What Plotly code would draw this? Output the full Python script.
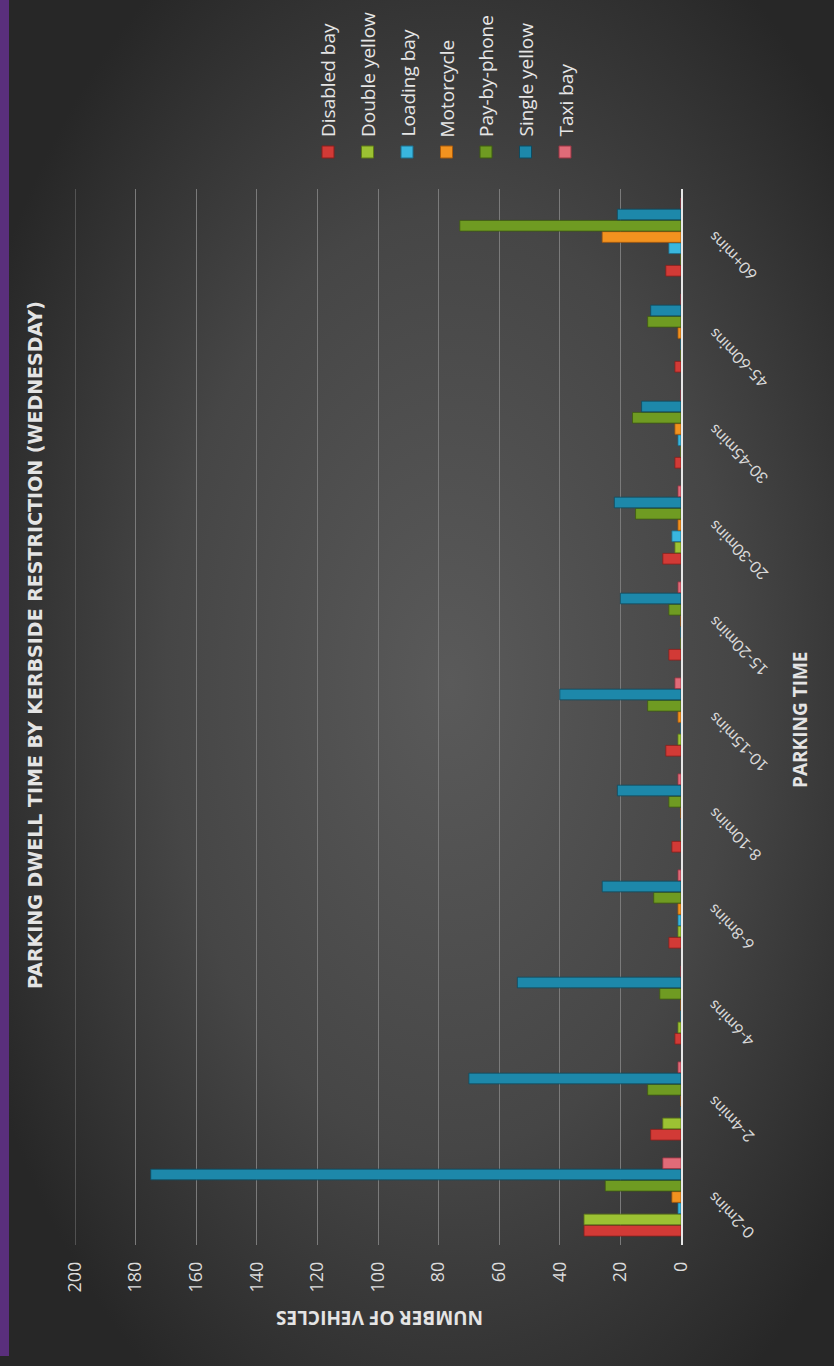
import base64
import plotly.graph_objects as go

# Parking dwell time categories (shortest at the bottom)
categories = ["0-2mins", "2-4mins", "4-6mins", "6-8mins", "8-10mins", "10-15mins",
              "15-20mins", "20-30mins", "30-45mins", "45-60mins", "60+mins"]

disabled_bay = [32, 10, 2, 4, 3, 5, 4, 6, 2, 2, 5]
double_yellow = [32, 6, 1, 1, 0, 1, 0, 2, 0, 0, 0]
loading_bay = [1, 0, 0, 1, 0, 0, 0, 3, 1, 0, 4]
motorcycle = [3, 0, 0, 1, 0, 1, 0, 1, 2, 1, 26]
pay_by_phone = [25, 11, 7, 9, 4, 11, 4, 15, 16, 11, 73]
single_yellow = [175, 70, 54, 26, 21, 40, 20, 22, 13, 10, 21]
taxi_bay = [6, 1, 0, 1, 1, 2, 1, 1, 0, 0, 0]

value_ticks = [0, 20, 40, 60, 80, 100, 120, 140, 160, 180, 200]

series = [
    ("Disabled bay", disabled_bay, "#d23a36", "#8a1f1c"),
    ("Double yellow", double_yellow, "#9cc233", "#5e7a16"),
    ("Loading bay", loading_bay, "#39b6df", "#1c6f8c"),
    ("Motorcycle", motorcycle, "#f2921f", "#a85a0c"),
    ("Pay-by-phone", pay_by_phone, "#6f9b22", "#3f5c10"),
    ("Single yellow", single_yellow, "#1d88aa", "#0d4c62"),
    ("Taxi bay", taxi_bay, "#e06b78", "#9a3442"),
]

W, H = 834, 1366
ML, MR, MT, MB = 75, 153, 189, 121
PW = W - ML - MR
PH = H - MT - MB


def fx(px):
    return (px - ML) / PW


def fy(py):
    return (H - MB - py) / PH


fig = go.Figure()
for name, vals, color, edge in series:
    fig.add_trace(go.Bar(
        y=categories, x=vals, name=name, orientation="h",
        marker=dict(color=color, line=dict(color=edge, width=0.8)),
        showlegend=False,
    ))

# soft radial backdrop
svg = (
    '<svg xmlns="http://www.w3.org/2000/svg" width="834" height="1366">'
    '<defs><radialGradient id="g" cx="0.54" cy="0.5" r="0.62">'
    '<stop offset="0" stop-color="#5a5a5a"/>'
    '<stop offset="0.55" stop-color="#464646"/>'
    '<stop offset="1" stop-color="#272727"/>'
    '</radialGradient></defs>'
    '<rect width="834" height="1366" fill="url(#g)"/></svg>'
)
bg_src = "data:image/svg+xml;base64," + base64.b64encode(svg.encode()).decode()

annotations = [
    dict(text="<b>PARKING DWELL TIME BY KERBSIDE RESTRICTION (WEDNESDAY)</b>",
         x=fx(35), y=fy(645), textangle=-90, showarrow=False,
         xref="paper", yref="paper", xanchor="center", yanchor="middle",
         font=dict(family="DejaVu Sans", size=19, color="#e4e4e4")),
    dict(text="<b>PARKING TIME</b>", x=fx(800), y=fy(720), textangle=-90,
         showarrow=False, xref="paper", yref="paper",
         xanchor="center", yanchor="middle",
         font=dict(family="Open Sans", size=19, color="#e4e4e4")),
    dict(text="<b>NUMBER OF VEHICLES</b>", x=fx(380), y=fy(1318), textangle=180,
         showarrow=False, xref="paper", yref="paper",
         xanchor="center", yanchor="middle",
         font=dict(family="Open Sans", size=19, color="#e4e4e4")),
]

# slanted category labels beside the axis
for cat in categories:
    annotations.append(dict(
        text=cat, x=fx(701), y=cat, xref="paper", yref="y",
        yshift=11, textangle=-135, showarrow=False,
        xanchor="left", yanchor="top",
        font=dict(family="Lato", size=16, color="#d8d8d8")))

shapes = [
    dict(type="rect", xref="paper", yref="paper",
         x0=fx(0), x1=fx(9), y0=fy(1356), y1=fy(0),
         fillcolor="#5a2f7c", line=dict(width=0), layer="above"),
    dict(type="line", xref="x", yref="paper", x0=200, x1=200, y0=0, y1=1,
         line=dict(color="#7a7a7a", width=1), layer="below"),
]

# hand-built legend, laid out as a row of upright labels
for i, (name, vals, color, edge) in enumerate(series):
    cx = 328 + i * 39.5
    annotations.append(dict(
        text=name, x=fx(cx), y=fy(139), textangle=-90, showarrow=False,
        xref="paper", yref="paper", xanchor="center", yanchor="bottom",
        font=dict(family="Open Sans", size=19, color="#e6e6e6")))
    shapes.append(dict(
        type="rect", xref="paper", yref="paper",
        x0=fx(cx - 6), x1=fx(cx + 6), y0=fy(158), y1=fy(146),
        fillcolor=color, line=dict(color=edge, width=1)))

fig.update_layout(
    width=W, height=H,
    margin=dict(l=ML, r=MR, t=MT, b=MB),
    paper_bgcolor="#2e2e2e", plot_bgcolor="rgba(0,0,0,0)",
    barmode="group", bargap=0.18, bargroupgap=0.05,
    xaxis=dict(range=[200, 0], tickvals=value_ticks, tickangle=-90,
               showgrid=True, gridcolor="#7a7a7a", gridwidth=1,
               zeroline=False, showline=False, ticks="",
               ticklabelstandoff=12,
               tickfont=dict(family="Open Sans", size=18, color="#dcdcdc")),
    yaxis=dict(side="right", range=[-0.5, 10.5], showticklabels=False,
               showgrid=False, zeroline=False,
               showline=True, linecolor="#e6e6e6", linewidth=1.5, ticks=""),
    images=[dict(source=bg_src, xref="paper", yref="paper",
                 x=fx(0), y=fy(0), sizex=W / PW, sizey=H / PH,
                 xanchor="left", yanchor="top", sizing="stretch",
                 layer="below")],
    annotations=annotations,
    shapes=shapes,
)

fig.write_html("out.html")
